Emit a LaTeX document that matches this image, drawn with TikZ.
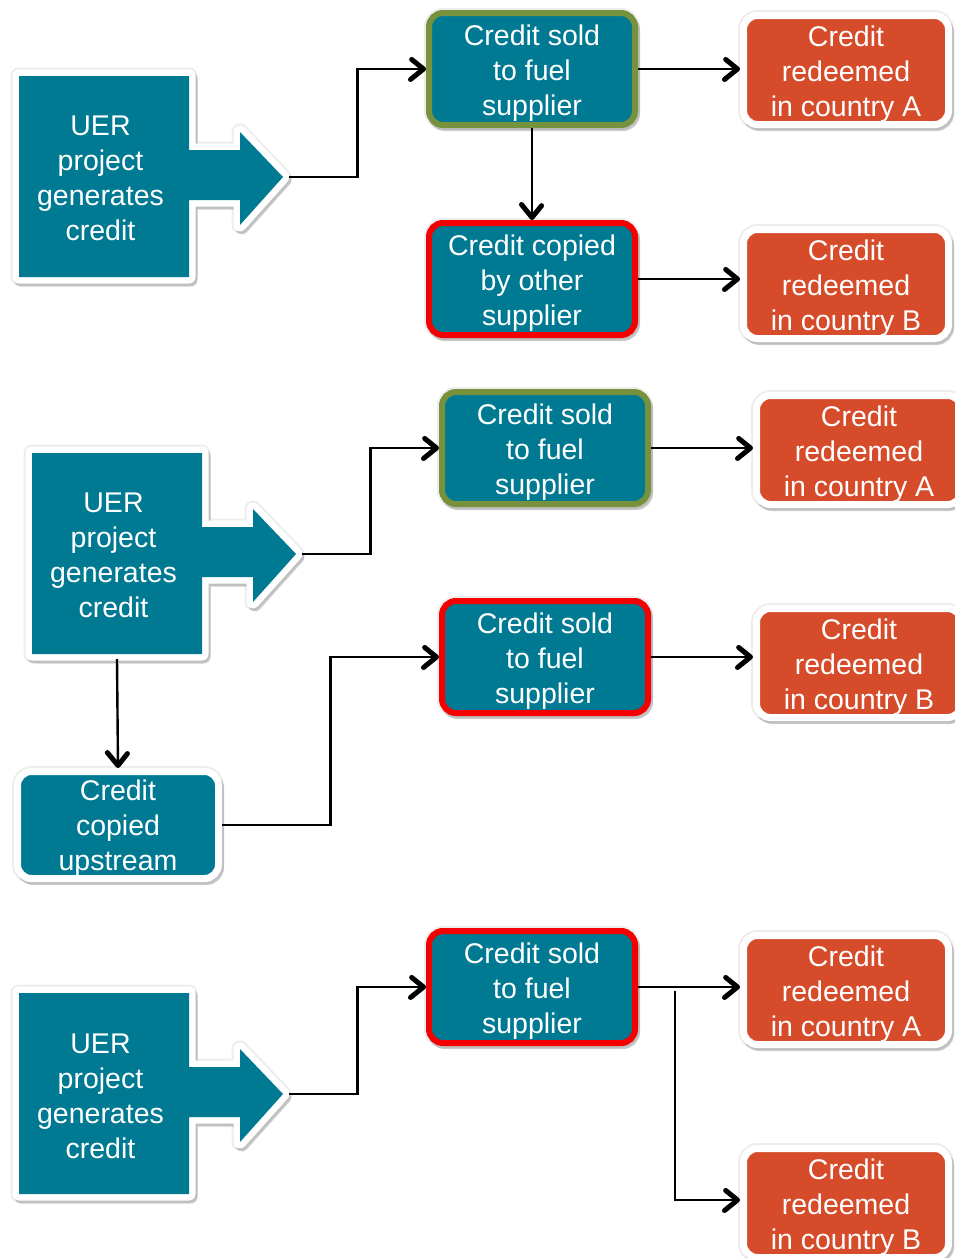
\documentclass[tikz,border=0pt]{standalone}
\usepackage{fontspec}
\setmainfont{Liberation Sans}
\usetikzlibrary{calc,decorations.markings}
\definecolor{tealc}{RGB}{0,122,147}
\definecolor{orangec}{RGB}{214,75,42}
\definecolor{greenc}{RGB}{118,146,60}
\definecolor{redc}{RGB}{245,0,0}
\newcommand{\topfix}{\rule{0pt}{28.5pt}}
\tikzset{
  shadowed/.style={preaction={draw=black,opacity=0.07,line width=#1+4pt},
                   preaction={draw=black,opacity=0.2,line width=#1,transform canvas={xshift=2pt,yshift=-3pt}}},
  basebox/.style={rounded corners=14pt, minimum width=206pt, minimum height=112pt, align=center,
    text=white, font=\fontsize{28.5}{35}\selectfont, inner sep=0pt},
  soldbox/.style={basebox, fill=tealc, draw=greenc, line width=6pt, shadowed=6pt},
  badbox/.style={basebox, fill=tealc, draw=redc, line width=6pt, shadowed=6pt},
  redeembox/.style={basebox, fill=orangec, draw=white, line width=7pt, minimum width=205pt, minimum height=109pt, shadowed=7pt},
  upbox/.style={basebox, fill=tealc, draw=white, line width=7pt, minimum width=201pt, minimum height=107pt, shadowed=7pt},
  uertext/.style={align=center, text=white, font=\fontsize{28.5}{35}\selectfont, inner sep=0pt},
  conn/.style={line width=2.4pt, shorten >=1.5pt, postaction={decorate, decoration={markings,
      mark=at position 1 with {\draw[line width=5pt, line cap=round, line join=round]
        (-15.5pt,-10.5pt) -- (-2.5pt,0pt) -- (-15.5pt,10.5pt);}}}},
  pics/uershape/.style={code={
    \def\uerpath{(0,0) -- (170,0) -- (170,74) -- (221,74) -- (221,56) -- (264,101) -- (221,149) -- (221,124) -- (170,124) -- (170,201) -- (0,201) -- cycle}
    \draw[black,opacity=0.07,line width=17pt,line join=round] \uerpath;
    \draw[black,opacity=0.2,line width=13pt,line join=round,transform canvas={xshift=2pt,yshift=-3pt}] \uerpath;
    \draw[white,line width=13pt,line join=round] \uerpath;
    \fill[tealc] \uerpath;
  }}
}
\begin{document}
\begin{tikzpicture}[x=1pt,y=-1pt]
\useasboundingbox (0,0) rectangle (955,1258);
% ---------- diagram 1 ----------
\pic at (19,76) {uershape};
\node[uertext] (uer1) at (100.5,178) {UER\\project\\generates\\credit};
\coordinate (tip1) at (289,177);
\node[soldbox] (sold1) at (532,69) {\topfix Credit sold\\to fuel\\supplier};
\node[badbox] (copy1) at (532,279) {\topfix Credit copied\\by other\\supplier};
\node[redeembox] (ra1) at (846,70) {\topfix Credit\\redeemed\\in country A};
\node[redeembox] (rb1) at (846,284) {\topfix Credit\\redeemed\\in country B};
\draw[conn] (tip1) -| ($(tip1)!.5!(sold1.west)$) |- (sold1.west);
\draw[conn] (sold1.east) -- (sold1.east -| ra1.west);
\draw[conn] (sold1.south) -- (copy1.north);
\draw[conn] (copy1.east) -- (copy1.east -| rb1.west);
% ---------- diagram 2 ----------
\pic at (32,453) {uershape};
\node[uertext] (uer2) at (113.5,555.5) {UER\\project\\generates\\credit};
\coordinate (tip2) at (302,554);
\coordinate (bot2) at (117,659);
\node[soldbox] (sold2) at (545,448) {\topfix Credit sold\\to fuel\\supplier};
\node[badbox] (sold2b) at (545,657) {\topfix Credit sold\\to fuel\\supplier};
\node[redeembox] (ra2) at (859,450) {\topfix Credit\\redeemed\\in country A};
\node[redeembox] (rb2) at (859,663) {\topfix Credit\\redeemed\\in country B};
\node[upbox] (up2) at (118,825) {\rule{0pt}{26.5pt}Credit\\copied\\upstream};
\draw[conn] (tip2) -| ($(tip2)!.5!(sold2.west)$) |- (sold2.west);
\draw[conn] (sold2.east) -- (sold2.east -| ra2.west);
\draw[conn] (bot2) -- (up2.north);
\draw[conn] (up2.east) -| ($(up2.east)!.5!(sold2b.west)$) |- (sold2b.west);
\draw[conn] (sold2b.east) -- (sold2b.east -| rb2.west);
% ---------- diagram 3 ----------
\pic at (19,993) {uershape};
\node[uertext] (uer3) at (100.5,1096) {UER\\project\\generates\\credit};
\coordinate (tip3) at (289,1094);
\node[badbox] (sold3) at (532,987) {\topfix Credit sold\\to fuel\\supplier};
\node[redeembox] (ra3) at (846,990) {\topfix Credit\\redeemed\\in country A};
\node[redeembox] (rb3) at (846,1203) {\topfix Credit\\redeemed\\in country B};
\coordinate (split3) at (675,991);
\draw[conn] (tip3) -| ($(tip3)!.5!(sold3.west)$) |- (sold3.west);
\draw[conn] (sold3.east) -- (sold3.east -| ra3.west);
\draw[conn] (split3) |- ($(rb3.west)+(0,-3)$);
\end{tikzpicture}
\end{document}
